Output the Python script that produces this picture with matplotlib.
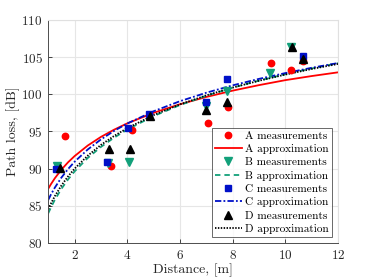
import matplotlib
matplotlib.use("Agg")
import matplotlib.pyplot as plt

plt.rcParams['font.family'] = ['cmr10', 'DejaVu Serif']
plt.rcParams['mathtext.fontset'] = 'cm'
plt.rcParams['axes.formatter.use_mathtext'] = True

# Measurements
a_x = [1.62, 3.38, 4.18, 7.05, 7.82, 9.46, 10.2, 10.68]
a_y = [94.4, 90.3, 95.2, 96.2, 98.3, 104.2, 103.3, 104.5]
b_x = [1.34, 3.25, 4.08, 7.0, 7.78, 9.42, 10.22]
b_y = [90.4, 90.8, 90.85, 98.4, 100.4, 102.9, 106.3]
c_x = [1.28, 3.22, 4.04, 4.82, 6.97, 7.77, 10.66]
c_y = [89.9, 90.85, 95.5, 97.3, 98.96, 102.0, 105.1]
d_x = [1.44, 3.30, 4.10, 4.85, 7.0, 7.8, 10.25, 10.68]
d_y = [90.05, 92.7, 92.6, 97.1, 97.9, 99.0, 106.4, 104.7]

# Approximation curves (read at sample distances)
dist = [1, 1.1, 1.25, 1.5, 1.75, 2, 2.5, 3, 3.5, 4, 5, 6, 7, 8, 9, 10, 11, 12]
a_fit = [87.3, 87.90, 88.71, 89.87, 90.85, 91.69, 93.11, 94.27, 95.24, 96.09,
         97.51, 98.66, 99.64, 100.49, 101.23, 101.90, 102.45, 102.95]
b_fit = [84.0, 84.77, 85.81, 87.29, 88.54, 89.63, 91.44, 92.92, 94.17, 95.26,
         97.07, 98.55, 99.80, 100.89, 101.84, 102.70, 103.47, 104.18]
c_fit = [85.8, 86.51, 87.45, 88.80, 89.94, 90.93, 92.58, 93.93, 95.08, 96.07,
         97.72, 99.07, 100.21, 101.20, 102.07, 102.85, 103.56, 104.20]
d_fit = [84.55, 85.30, 86.30, 87.74, 88.95, 90.00, 91.75, 93.19, 94.40, 95.45,
         97.20, 98.64, 99.85, 100.90, 101.82, 102.65, 103.40, 104.08]

x_ticks = [2, 4, 6, 8, 10, 12]
y_ticks = [80, 85, 90, 95, 100, 105, 110]

red = '#ff0000'
green = '#12a07a'
blue = '#0010c8'
black = '#000000'

fig = plt.figure(figsize=(3.74, 2.80), dpi=100)
ax = fig.add_axes([0.129, 0.132, 0.775, 0.797])

ax.plot(a_x, a_y, 'o', color=red, ms=4.6, label='A measurements', zorder=3)
ax.plot(dist, a_fit, '-', color=red, lw=1.3, label='A approximation', zorder=2)
ax.plot(b_x, b_y, 'v', color=green, ms=5.2, label='B measurements', zorder=3)
ax.plot(dist, b_fit, '--', color=green, lw=1.3, dashes=(3, 2.2), label='B approximation', zorder=2)
ax.plot(c_x, c_y, 's', color=blue, ms=4.2, label='C measurements', zorder=3)
ax.plot(dist, c_fit, '-.', color=blue, lw=1.3, dashes=(3.5, 1.2, 1, 1.2), label='C approximation', zorder=2)
ax.plot(d_x, d_y, '^', color=black, ms=5.2, label='D measurements', zorder=3)
ax.plot(dist, d_fit, ':', color=black, lw=1.3, dashes=(0.8, 0.8), label='D approximation', zorder=2)

ax.set_xlim(1, 12)
ax.set_ylim(80, 110)
ax.set_xticks(x_ticks)
ax.set_yticks(y_ticks)
ax.grid(True, color='#e6e6e6', lw=0.8)
ax.set_axisbelow(True)
ax.tick_params(direction='in', length=3, width=0.6, labelsize=9.5, colors='#262626', pad=4)
for s in ['left', 'bottom']:
    ax.spines[s].set_color('#4d4d4d')
    ax.spines[s].set_linewidth(0.7)
for s in ['top', 'right']:
    ax.spines[s].set_color('#e0e0e0')
    ax.spines[s].set_linewidth(0.8)

ax.set_xlabel('Distance, [m]', fontsize=10, color='#262626', labelpad=1)
ax.set_ylabel('Path loss, [dB]', fontsize=10, color='#262626', labelpad=1)

leg = ax.legend(loc='lower right', fontsize=8.1, frameon=True, fancybox=False,
                edgecolor='#262626', handlelength=2.4, handletextpad=0.3,
                labelspacing=0.3, borderpad=0.3, borderaxespad=0.5)
leg.get_frame().set_linewidth(0.6)

fig.savefig('out.png', dpi=100)
